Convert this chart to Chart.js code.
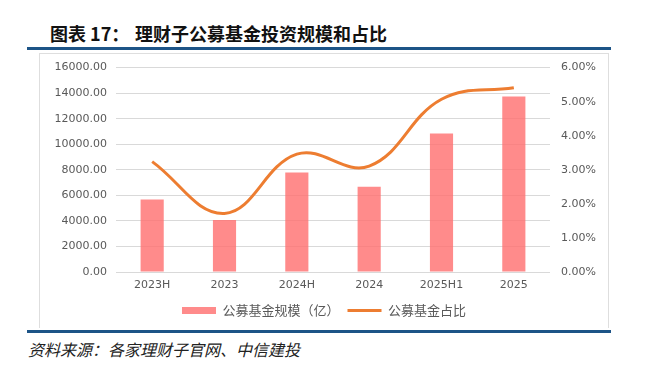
<!DOCTYPE html>
<html>
<head>
<meta charset="utf-8">
<script src="https://cdn.jsdelivr.net/npm/chart.js@4.4.1/dist/chart.umd.min.js"></script>
<style>
  html, body { margin: 0; padding: 0; background: #fff; }
  body { width: 664px; height: 377px; position: relative; overflow: hidden; }
  .title { position: absolute; top: 20px; font: bold 18px "Noto Sans CJK SC", sans-serif; color: #111; white-space: pre; }
  .rule { position: absolute; left: 27px; width: 584px; height: 3px; background: #1d5487; }
  .box { position: absolute; left: 39px; top: 53px; width: 568px; height: 274px; border: 1px solid #dedede; border-bottom: none; }
  .wrap { position: absolute; left: 40px; top: 50px; width: 568px; height: 278px; }
  .source { position: absolute; left: 28px; top: 337px; font: italic 16px "Noto Sans CJK SC", sans-serif; color: #222; }
</style>
</head>
<body>
<div class="title" style="left:50px">图表 17：</div>
<div class="title" style="left:135px">理财子公募基金投资规模和占比</div>
<div class="rule" style="top:47px"></div>
<div class="box"></div>
<div class="wrap"><canvas id="chart"></canvas></div>
<div class="rule" style="top:330px"></div>
<div class="source">资料来源：各家理财子官网、中信建投</div>

<script>
// categories and series
const periods = ['2023H', '2023', '2024H', '2024', '2025H1', '2025'];
const fundScale = [5670, 4080, 7790, 6670, 10850, 13730];   // 公募基金规模（亿）
const fundShare = [3.24, 1.72, 3.46, 3.11, 5.07, 5.41];     // 公募基金占比 (%)

const tickFont = { family: 'DejaVu Sans', size: 11 };
const tickColor = '#595959';
const gridColor = '#d9d9d9';

new Chart(document.getElementById('chart'), {
  type: 'bar',
  data: {
    labels: periods,
    datasets: [
      {
        type: 'bar',
        label: '公募基金规模（亿）',
        data: fundScale,
        yAxisID: 'y',
        backgroundColor: 'rgba(255, 110, 110, 0.8)',
        borderWidth: 0,
        categoryPercentage: 1,
        barPercentage: 0.32,
        pointStyle: 'rect',
        order: 1
      },
      {
        type: 'line',
        label: '公募基金占比',
        data: fundShare,
        yAxisID: 'y1',
        borderColor: '#ed7d31',
        backgroundColor: '#ed7d31',
        borderWidth: 3,
        tension: 0.4,
        pointRadius: 0,
        pointStyle: 'line',
        order: 0
      }
    ]
  },
  options: {
    responsive: true,
    maintainAspectRatio: false,
    animation: false,
    layout: { padding: { top: 8, left: 0, right: 0, bottom: 1 } },
    plugins: {
      legend: {
        position: 'bottom',
        labels: {
          usePointStyle: true,
          pointStyleWidth: 34,
          boxHeight: 7,
          padding: 8,
          color: tickColor,
          font: { family: 'Noto Sans CJK SC', size: 13 },
          sort: (a, b) => a.datasetIndex - b.datasetIndex
        }
      },
      tooltip: { enabled: false }
    },
    scales: {
      x: {
        grid: { display: false, drawTicks: false },
        border: { display: false },
        ticks: { color: tickColor, font: tickFont, padding: 7 },
        afterFit: s => { s.height = 24; }
      },
      y: {
        position: 'left',
        min: 0,
        max: 16000,
        ticks: {
          stepSize: 2000,
          color: tickColor,
          font: tickFont,
          padding: 9,
          callback: v => v.toFixed(2)
        },
        grid: { color: gridColor, drawTicks: false },
        border: { display: false },
        afterFit: s => { s.width = 76; }
      },
      y1: {
        position: 'right',
        min: 0,
        max: 6,
        ticks: {
          stepSize: 1,
          color: tickColor,
          font: tickFont,
          padding: 11,
          callback: v => v.toFixed(2) + '%'
        },
        grid: { display: false, drawTicks: false },
        border: { display: false },
        afterFit: s => { s.width = 58; }
      }
    }
  }
});
</script>
</body>
</html>
